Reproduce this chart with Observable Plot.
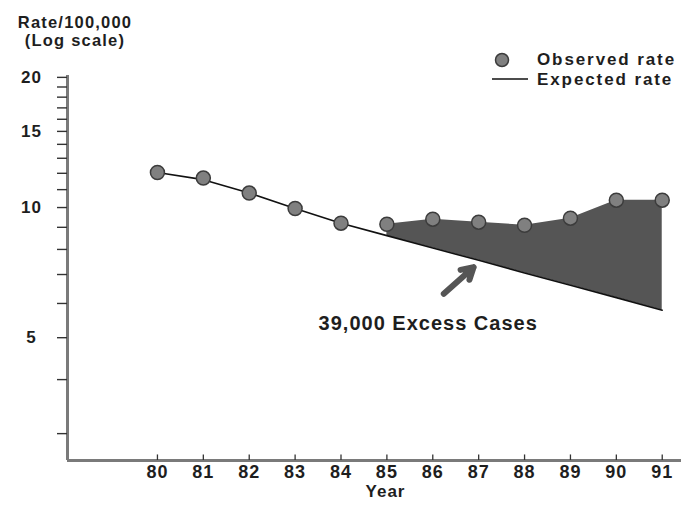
<!DOCTYPE html>
<html>
<head>
<meta charset="utf-8">
<script src="https://cdn.jsdelivr.net/npm/d3@7"></script>
<script src="https://cdn.jsdelivr.net/npm/@observablehq/plot@0.6"></script>
<style>
  body { margin: 0; background: #fff; }
  #wrap { position: relative; width: 681px; height: 505px; overflow: hidden;
          font-family: "Liberation Sans", Arial, Helvetica, sans-serif; color: #1e1e1e; }
  #chart svg text { letter-spacing: 1px; }
  #title { position: absolute; left: 8px; top: 13px; width: 134px; text-align: center;
           font-weight: bold; font-size: 16.5px; line-height: 18px; letter-spacing: 1.2px; }
  .leg { position: absolute; left: 537px; font-weight: bold; font-size: 17px;
         letter-spacing: 1.9px; white-space: nowrap; line-height: 17px; }
  #legsym { position: absolute; left: 480px; top: 45px; }
</style>
</head>
<body>
<div id="wrap">
  <div id="chart"></div>
  <div id="title">Rate/100,000<br>(Log scale)</div>
  <svg id="legsym" width="60" height="45">
    <circle cx="22" cy="15" r="6.5" fill="#808080" stroke="#3c3c3c" stroke-width="1.5"></circle>
    <line x1="12" y1="34" x2="48" y2="34" stroke="#111" stroke-width="1.6"></line>
  </svg>
  <div class="leg" style="top:51px">Observed rate</div>
  <div class="leg" style="top:71px">Expected rate</div>
</div>
<script>
// ---- data ----
const years = [80, 81, 82, 83, 84, 85, 86, 87, 88, 89, 90, 91];
const observedRate = [12.05, 11.7, 10.8, 9.95, 9.2, 9.15, 9.4, 9.25, 9.1, 9.45, 10.4, 10.4];
const expectedRate = [12.05, 11.6, 10.8, 9.95, 9.2, 8.61, 8.06, 7.55, 7.06, 6.61, 6.19, 5.79];
const excessStartYear = 85;
const yTickValues = [3, 4, 5, 6, 7, 8, 9, 10, 11, 12, 13, 14, 15, 16, 17, 18, 19, 20];
const yTickLabels = [5, 10, 15, 20];
const xDomain = [78.04, 91.42];
const yDomain = [2.6, 20.2];
const annotationText = ["39,000 Excess Cases"];
const annotationX = [85.9];
const annotationY = [5.39];
const arrowFrom = [86.24, 6.32];
const arrowTo = [86.89, 7.28];

const rows = years.map((year, i) => ({year, observed: observedRate[i], expected: expectedRate[i]}));
const excess = rows.filter(d => d.year >= excessStartYear);
const font = "'Liberation Sans', Arial, Helvetica, sans-serif";

const chart = Plot.plot({
  width: 681,
  height: 505,
  marginLeft: 67,
  marginRight: 0,
  marginTop: 75,
  marginBottom: 45,
  style: {fontFamily: font, background: "transparent", color: "#1e1e1e"},
  x: {domain: xDomain},
  y: {type: "log", domain: yDomain},
  marks: [
    Plot.areaY(excess, {x: "year", y1: "expected", y2: "observed", fill: "#555555"}),
    Plot.line(rows, {x: "year", y: "expected", stroke: "#111", strokeWidth: 1.6}),
    Plot.dot(rows, {x: "year", y: "observed", r: 7, fill: "#808080", stroke: "#3c3c3c", strokeWidth: 1.5}),
    Plot.ruleY([yDomain[0]], {stroke: "#7a7a7a", strokeWidth: 3}),
    Plot.ruleX([xDomain[0]], {stroke: "#7a7a7a", strokeWidth: 3}),
    Plot.ruleX(years, {x: d => d, y1: yDomain[0], y2: yDomain[0] * 1.03, stroke: "#333", strokeWidth: 1.3}),
    Plot.axisY({ticks: yTickValues, tickSize: 10, tickPadding: 26, textAnchor: "middle",
      tickFormat: d => yTickLabels.includes(d) ? String(d) : "",
      fontSize: 17, fontWeight: "bold", label: null, stroke: "#333", strokeWidth: 1.4}),
    Plot.axisX({ticks: years, tickSize: 0, tickPadding: 5, fontSize: 18, fontWeight: "bold",
      label: null, tickFormat: d => String(d)}),
    Plot.text(["Year"], {frameAnchor: "bottom", text: d => d, dy: 36, dx: 11, fontSize: 17, fontWeight: "bold"}),
    Plot.text(annotationText, {x: (d, i) => annotationX[i], y: (d, i) => annotationY[i], text: d => d,
      fontSize: 20, fontWeight: "bold"}),
    Plot.arrow([{x1: arrowFrom[0], y1: arrowFrom[1], x2: arrowTo[0], y2: arrowTo[1]}],
      {x1: "x1", y1: "y1", x2: "x2", y2: "y2", stroke: "#555", strokeWidth: 6, headLength: 12})
  ]
});
document.getElementById("chart").appendChild(chart);
</script>
</body>
</html>
